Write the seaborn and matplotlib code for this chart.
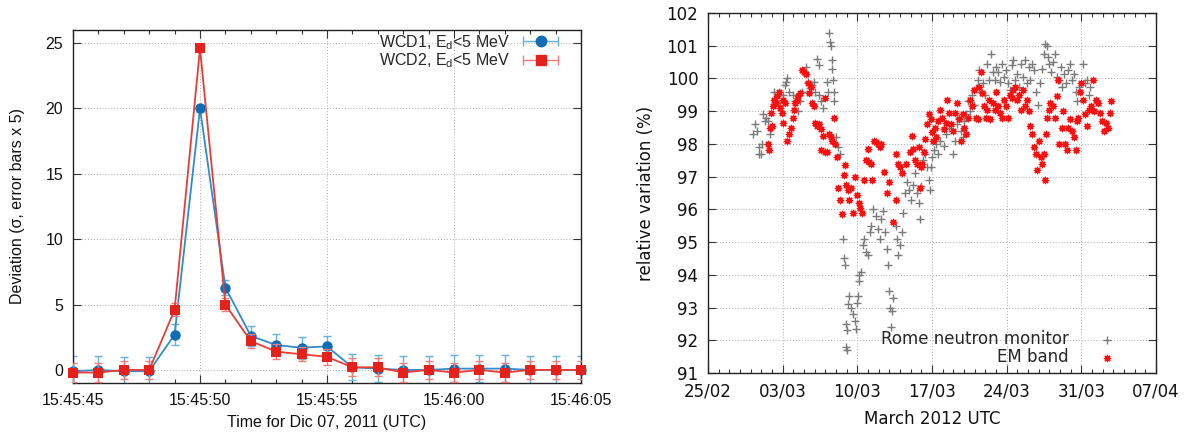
import matplotlib
matplotlib.use("Agg")
import matplotlib.pyplot as plt
import seaborn as sns
import pandas as pd
from matplotlib.lines import Line2D
from matplotlib.legend_handler import HandlerLine2D, HandlerTuple
from matplotlib.ticker import MultipleLocator, FixedLocator

# ---------------- data: left panel ----------------
seconds = [45, 46, 47, 48, 49, 50, 51, 52, 53, 54, 55, 56, 57, 58, 59, 60, 61, 62, 63, 64, 65]
wcd1 = [-0.1, 0.0, -0.1, -0.1, 2.7, 20.0, 6.3, 2.6, 1.9, 1.7, 1.8, 0.2, 0.1, 0.0, 0.0, 0.1, 0.1, 0.1, 0.0, 0.0, 0.0]
wcd1_err = [1.15, 1.1, 1.1, 1.1, 0.8, 0.3, 0.55, 0.75, 0.85, 0.85, 0.8, 1.0, 1.05, 1.07, 1.07, 1.05, 1.05, 1.05, 1.07, 1.07, 1.07]
wcd2 = [-0.2, -0.2, 0.0, 0.0, 4.6, 24.6, 5.0, 2.2, 1.4, 1.2, 1.0, 0.2, 0.2, -0.2, 0.0, -0.2, 0.0, -0.2, 0.0, 0.0, 0.0]
wcd2_err = [0.7, 0.7, 0.7, 0.7, 0.5, 0.3, 0.5, 0.55, 0.55, 0.55, 0.6, 0.7, 0.7, 0.7, 0.7, 0.7, 0.7, 0.7, 0.7, 0.7, 0.7]
left_xticks = [45, 50, 55, 60, 65]
left_xticklabels = ["15:45:45", "15:45:50", "15:45:55", "15:46:00", "15:46:05"]
left_yticks = [0, 5, 10, 15, 20, 25]
label_wcd1 = r"WCD1, E$_{\mathregular{d}}$<5 MeV"
label_wcd2 = r"WCD2, E$_{\mathregular{d}}$<5 MeV"

# ---------------- data: right panel (days since 25/02/2012) ----------------
nm_day = [4.24, 4.42, 4.60, 4.77, 4.77, 4.95, 5.02, 5.13, 5.30, 5.48, 5.66, 5.83, 5.94, 6.19, 6.36, 6.72,
          7.07, 7.25, 7.42, 7.35, 7.60, 7.95, 8.13, 8.48, 8.66, 8.84, 9.01, 9.19, 9.37, 9.54, 9.72, 9.90,
          10.07, 10.25, 10.36, 10.43, 10.60, 10.78, 11.13, 11.21, 11.31, 11.42, 11.49, 11.59, 11.66, 11.74,
          11.84, 11.84, 12.02, 12.20, 12.37, 12.62, 12.73, 12.80, 12.90, 13.01, 12.90, 13.01, 13.08, 13.26,
          13.43, 13.61, 13.79, 13.89, 13.96, 14.07, 14.14, 14.14, 14.32, 14.49, 14.67, 14.85, 15.02, 15.20,
          15.27, 15.48, 15.73, 15.91, 16.08, 16.26, 16.44, 16.61, 16.79, 16.90, 16.97, 17.07, 17.25, 17.14,
          17.32, 17.60, 17.75, 17.85, 18.03, 18.20, 18.31, 18.45, 18.66, 18.81, 19.02, 19.26, 19.44, 19.62,
          19.79, 19.87, 19.97, 20.15, 20.33, 20.50, 20.68, 20.78, 20.93, 21.03, 21.21, 21.39, 21.56, 21.74,
          22.09, 22.27, 22.62, 22.98, 23.15, 23.33, 23.51, 23.68, 23.86, 24.04, 24.21, 24.39, 24.57, 24.74,
          24.92, 25.10, 25.27, 25.45, 25.63, 25.80, 25.98, 26.16, 26.33, 26.51, 26.69, 26.86, 27.04, 27.22,
          27.39, 27.57, 27.75, 27.93, 28.10, 28.28, 28.46, 28.63, 28.81, 28.99, 29.16, 29.34, 29.52, 29.69,
          29.87, 30.05, 30.22, 30.40, 30.58, 30.75, 30.93, 31.11, 31.28, 31.46, 31.57, 31.74, 31.88, 31.99,
          32.17, 32.34, 32.52, 32.70, 32.87, 33.05, 33.23, 33.40, 33.58, 33.76, 33.93, 34.11, 34.29, 34.46,
          34.64, 34.82, 35.17, 35.35, 35.53, 35.70, 35.81]
nm_val = [98.3, 98.6, 98.4, 97.9, 97.7, 97.7, 98.0, 98.9, 98.7, 98.8, 98.7, 98.3, 98.5, 99.6, 99.3, 99.2,
          99.5, 99.8, 100.0, 99.9, 99.6, 99.5, 99.3, 99.0, 99.3, 99.6, 100.2, 100.35, 99.9, 99.7, 99.8, 99.9,
          99.6, 100.6, 100.4, 99.5, 99.3, 99.1, 99.9, 99.6, 101.4, 101.1, 101.0, 100.55, 100.3, 99.95,
          99.6, 99.3, 98.2, 97.9, 97.7, 95.1, 94.5, 94.3, 92.5, 92.3, 91.8, 91.7, 93.1, 93.35,
          93.0, 92.8, 92.6, 92.35, 93.15, 93.35, 93.8, 94.0, 94.1, 94.9, 95.1, 94.7, 94.6, 95.3,
          95.5, 96.0, 95.8, 95.4, 95.1, 95.7, 95.95, 95.3, 94.8, 94.3, 93.5, 93.0, 92.9, 92.4,
          93.3, 95.5, 95.1, 94.6, 94.9, 95.3, 95.9, 96.5, 96.85, 96.6, 96.3, 96.75, 97.1, 96.5,
          96.2, 95.7, 96.7, 97.5, 97.7, 97.3, 96.9, 96.6, 97.3, 97.6, 97.8, 98.0, 97.7, 98.1,
          97.95, 98.3, 98.5, 97.7, 98.1, 98.6, 98.8, 98.4, 98.2, 98.7, 98.9, 99.3, 99.0, 99.5,
          99.2, 99.7, 99.95, 100.25, 99.6, 99.85, 99.5, 100.45, 99.95, 100.75, 100.2, 99.95, 100.35, 100.2,
          99.9, 100.45, 100.05, 100.25, 99.85, 99.65, 100.4, 100.55, 99.95, 100.15, 99.75, 100.45, 100.05, 100.55,
          99.85, 100.35, 99.95, 100.45, 100.25, 99.6, 99.2, 99.85, 100.3, 100.75, 101.05, 101.0, 100.65, 100.45,
          100.2, 100.5, 100.75, 100.05, 99.95, 100.35, 99.75, 100.15, 99.85, 100.25, 100.45, 99.95, 100.15, 99.6,
          99.3, 99.75, 100.45, 99.85, 99.95, 99.5, 99.75]

em_day = [5.66, 5.73, 5.83, 6.01, 5.94, 6.08, 6.22, 6.36, 6.50, 6.65, 6.79, 6.93, 7.07, 7.00, 7.25, 7.42,
          7.60, 7.78, 7.95, 8.06, 8.20, 8.31, 8.48, 8.66, 8.84, 9.01, 9.19, 9.37, 9.47, 9.61, 9.76, 9.90,
          10.07, 10.25, 10.43, 10.60, 10.78, 10.96, 10.60, 10.96, 11.13, 11.31, 11.49, 11.66, 11.84, 11.95,
          12.09, 12.20, 12.37, 12.55, 12.73, 12.80, 12.90, 13.08, 13.26, 13.43, 13.61, 13.79, 13.96, 14.14,
          14.28, 14.42, 14.67, 14.85, 15.02, 15.13, 15.27, 15.38, 15.55, 15.73, 15.91, 16.08, 16.26, 16.54,
          16.79, 16.97, 17.39, 17.67, 17.85, 18.03, 18.20, 17.67, 18.56, 18.91, 19.09, 19.26, 19.44, 19.62,
          19.79, 19.87, 19.97, 20.08, 20.22, 20.36, 20.50, 20.68, 20.86, 21.03, 21.14, 21.28, 21.42, 21.56,
          21.74, 21.92, 22.09, 22.27, 22.45, 22.62, 22.80, 22.98, 23.15, 23.33, 23.51, 23.68, 23.86, 24.04,
          24.21, 24.39, 24.57, 24.74, 24.92, 25.10, 25.27, 25.45, 25.63, 25.73, 25.88, 26.02, 26.16, 26.30,
          26.44, 26.69, 26.86, 27.04, 27.22, 27.39, 27.57, 27.75, 27.93, 28.10, 28.28, 28.46, 28.63, 28.81,
          28.99, 29.16, 29.34, 29.52, 29.69, 29.87, 30.05, 30.22, 30.40, 30.58, 30.75, 30.86, 31.04, 31.18,
          31.28, 31.46, 31.57, 31.67, 31.81, 31.99, 32.10, 32.34, 32.52, 32.70, 32.80, 32.94, 33.16, 33.30,
          33.51, 33.65, 33.76, 33.93, 34.11, 34.29, 34.46, 34.57, 34.71, 34.85, 34.99, 35.17, 35.35, 35.53,
          35.70, 35.88, 36.06, 36.23, 36.41, 36.59, 36.76, 36.94, 37.12, 37.29, 37.47, 37.65, 37.82]
em_val = [98.0, 97.8, 98.5, 98.55, 98.95, 99.15, 99.35, 99.25, 99.45, 99.6, 99.1, 98.95, 98.65, 99.35, 99.25, 98.1,
          98.3, 98.5, 98.8, 99.05, 99.25, 99.35, 99.45, 99.55, 100.25, 100.2, 100.15, 99.85, 99.55, 99.75, 99.25, 99.15,
          98.65, 98.55, 98.6, 98.45, 98.25, 99.4, 97.8, 97.75, 97.75, 98.3, 98.2, 98.1, 98.8, 98.0,
          97.6, 96.65, 96.3, 95.85, 97.05, 97.35, 96.75, 96.6, 96.3, 96.65, 95.9, 97.0, 96.45, 96.2,
          96.05, 95.9, 96.9, 97.5, 97.85, 97.45, 97.4, 96.9, 98.1, 98.05, 98.0, 97.9, 98.0, 97.15,
          96.5, 96.85, 95.6, 97.7, 97.4, 97.3, 97.1, 96.3, 97.4, 97.75, 98.25, 97.85, 97.5, 97.4,
          97.9, 96.65, 97.3, 97.4, 97.75, 98.15, 98.6, 98.9, 98.75, 98.35, 98.1, 98.5, 98.2, 98.7,
          99.05, 98.8, 98.45, 98.65, 99.35, 98.95, 98.6, 98.4, 98.95, 99.25, 98.75, 98.1, 98.9, 98.5,
          98.3, 98.8, 99.35, 99.15, 99.65, 98.8, 98.75, 99.75, 100.2, 99.55, 99.15, 98.8, 99.05, 99.35,
          98.75, 99.25, 99.05, 99.6, 99.15, 98.95, 98.8, 99.35, 99.15, 98.8, 99.5, 99.4, 99.65, 99.75,
          99.35, 99.5, 99.05, 99.65, 99.15, 99.35, 99.0, 98.55, 98.3, 97.9, 97.7, 97.2, 98.1, 97.6,
          97.4, 97.7, 96.9, 98.3, 98.8, 99.05, 99.25, 99.15, 98.8, 99.45, 99.95, 98.0, 98.5, 99.0,
          98.0, 97.8, 98.5, 98.75, 98.4, 98.2, 97.8, 98.7, 98.8, 99.6, 99.85, 99.35, 98.9, 98.55,
          99.05, 99.15, 99.95, 99.0, 99.35, 99.25, 98.95, 98.7, 98.4, 98.65, 98.5, 98.95, 99.3]
right_xticks = [0, 7, 14, 21, 28, 35, 42]
right_xticklabels = ["25/02", "03/03", "10/03", "17/03", "24/03", "31/03", "07/04"]
right_yticks = [91, 92, 93, 94, 95, 96, 97, 98, 99, 100, 101, 102]

# ---------------- style ----------------
sns.set_style("ticks")
plt.rcParams["font.family"] = ["Liberation Sans", "DejaVu Sans"]

blue_mark, blue_line, blue_err = "#0d6db5", "#2f8ccd", "#62b1e2"
red_mark, red_line, red_err = "#e5211b", "#ec3b35", "#f27b78"

W, H = 1189, 434
fig = plt.figure(figsize=(W / 100, H / 100), dpi=100)
ax1 = fig.add_axes([73 / W, 1 - 383 / H, (581 - 73) / W, (383 - 30) / H])
ax2 = fig.add_axes([708 / W, 1 - 373 / H, (1156 - 708) / W, (373 - 13) / H])

def gnuplot_frame(ax):
    for s in ax.spines.values():
        s.set_linewidth(1.0)
        s.set_color("#222222")
    ax.tick_params(which="both", direction="in", top=True, right=True, color="#333333", width=0.8)
    ax.tick_params(which="major", length=5.5)
    ax.tick_params(which="minor", length=3)
    ax.grid(True, which="major", linestyle=(0, (1, 2)), color="#aaaaaa", linewidth=0.7)
    ax.set_axisbelow(True)

# ---------------- left panel ----------------
df1 = pd.DataFrame({"t": seconds, "wcd1": wcd1, "wcd2": wcd2})
ax1.errorbar(seconds, wcd1, yerr=wcd1_err, fmt="none", ecolor=blue_err, elinewidth=1.0,
             capsize=3, capthick=1.0, zorder=2)
sns.lineplot(data=df1, x="t", y="wcd1", ax=ax1, color=blue_line, linewidth=1.3, marker="o",
             markersize=7.5, markerfacecolor=blue_mark, markeredgecolor=blue_mark, markeredgewidth=0,
             estimator=None, zorder=3, clip_on=False)
ax1.errorbar(seconds, wcd2, yerr=wcd2_err, fmt="none", ecolor=red_err, elinewidth=1.0,
             capsize=3, capthick=1.0, zorder=4)
sns.lineplot(data=df1, x="t", y="wcd2", ax=ax1, color=red_line, linewidth=1.3, marker="s",
             markersize=7.5, markerfacecolor=red_mark, markeredgecolor=red_mark, markeredgewidth=0,
             estimator=None, zorder=5, clip_on=False)

ax1.set_xlim(45, 65)
ax1.set_ylim(-1, 26)
ax1.xaxis.set_major_locator(FixedLocator(left_xticks))
ax1.set_xticklabels(left_xticklabels)
ax1.xaxis.set_minor_locator(MultipleLocator(1))
ax1.yaxis.set_major_locator(FixedLocator(left_yticks))
gnuplot_frame(ax1)
ax1.tick_params(axis="both", labelsize=11.5, pad=7, labelcolor="#111111")
ax1.set_xlabel("Time for Dic 07, 2011 (UTC)", fontsize=11.5, labelpad=5, color="#111111")
ax1.set_ylabel("Deviation (σ, error bars x 5)", fontsize=11.5, labelpad=15, color="#111111")

cap1 = Line2D([], [], color=blue_err, marker="|", markersize=7, markeredgewidth=1.0, linewidth=1.0)
dot1 = Line2D([], [], color=blue_mark, marker="o", markersize=7.5, linestyle="none")
cap2 = Line2D([], [], color=red_err, marker="|", markersize=7, markeredgewidth=1.0, linewidth=1.0)
dot2 = Line2D([], [], color=red_mark, marker="s", markersize=7.5, linestyle="none")
leg1 = ax1.legend([(cap1, dot1), (cap2, dot2)], [label_wcd1, label_wcd2],
                  handler_map={tuple: HandlerTuple(ndivide=1, pad=0),
                               cap1: HandlerLine2D(numpoints=2), cap2: HandlerLine2D(numpoints=2),
                               dot1: HandlerLine2D(numpoints=1), dot2: HandlerLine2D(numpoints=1)},
                  loc="upper right", bbox_to_anchor=(0.9646, 0.992), borderaxespad=0, borderpad=0,
                  frameon=False, markerfirst=False, fontsize=11.5, handlelength=2.8,
                  handletextpad=0.5, labelspacing=0.0)

# ---------------- right panel ----------------
df_nm = pd.DataFrame({"day": nm_day, "val": nm_val})
df_em = pd.DataFrame({"day": em_day, "val": em_val})
sns.scatterplot(data=df_nm, x="day", y="val", ax=ax2, marker="+", color="#7a7a7a", s=32,
                linewidth=1.0, label="Rome neutron monitor", zorder=3)
sns.scatterplot(data=df_em, x="day", y="val", ax=ax2, marker=(8, 2, 0), color="#ff1010", s=20,
                linewidth=1.0, label="EM band", zorder=4)

ax2.set_xlim(0, 42)
ax2.set_ylim(91, 102)
ax2.xaxis.set_major_locator(FixedLocator(right_xticks))
ax2.set_xticklabels(right_xticklabels)
ax2.xaxis.set_minor_locator(MultipleLocator(1))
ax2.yaxis.set_major_locator(FixedLocator(right_yticks))
gnuplot_frame(ax2)
ax2.tick_params(axis="both", labelsize=12, pad=7, labelcolor="#111111")
for lab in ax2.get_xticklabels() + ax2.get_yticklabels():
    lab.set_fontfamily("DejaVu Sans")
ax2.set_xlabel("March 2012 UTC", fontsize=12, family="DejaVu Sans", labelpad=7, color="#111111")
ax2.set_ylabel("relative variation (%)", fontsize=12, family="DejaVu Sans", labelpad=8, color="#111111")
leg2 = ax2.legend(loc="lower right", bbox_to_anchor=(0.928, 0.019), borderaxespad=0, borderpad=0,
                  frameon=False, markerfirst=False, handlelength=2.0, handletextpad=1.3,
                  labelspacing=0.0, prop={"family": "DejaVu Sans", "size": 12})

fig.savefig("out.png", dpi=100)
